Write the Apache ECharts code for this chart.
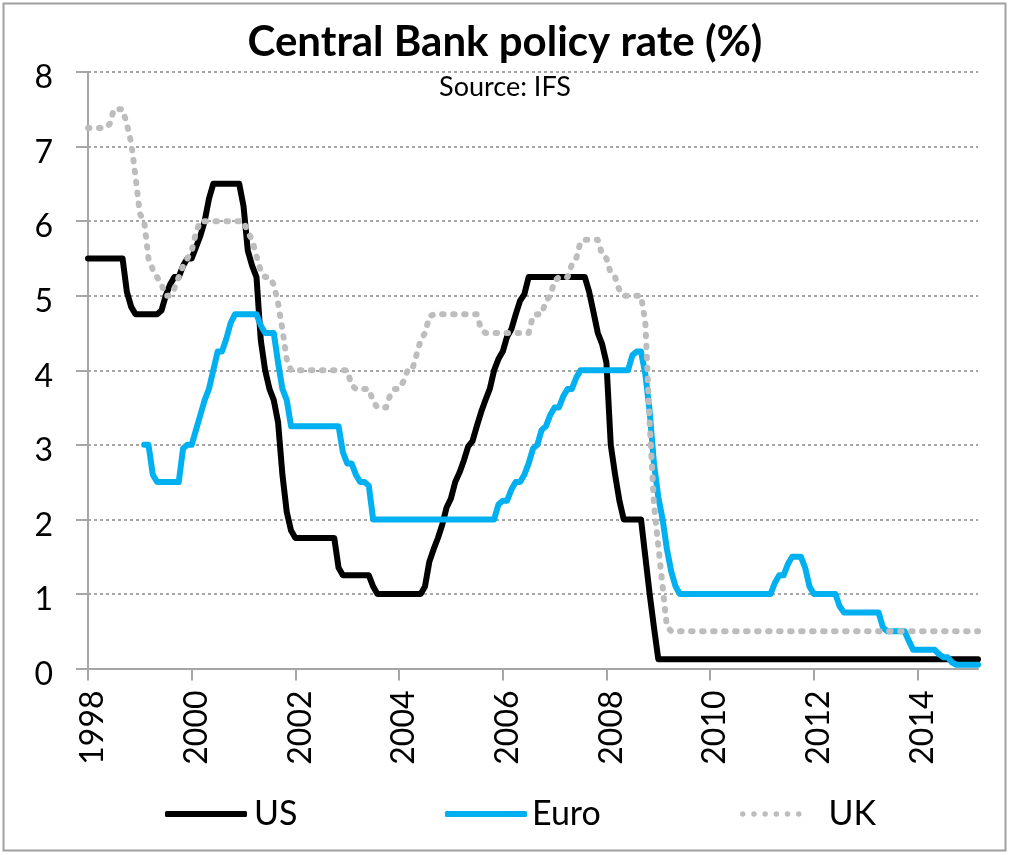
<!DOCTYPE html>
<html><head><meta charset="utf-8">
<script src="https://cdn.jsdelivr.net/npm/echarts@6/dist/echarts.min.js"></script>
<style>html,body{margin:0;padding:0;background:#fff}#c{width:1010px;height:855px}</style>
</head><body><div id="c"></div>
<script>
const startYear = 1998;
const tickYears = ['1998','2000','2002','2004','2006','2008','2010','2012','2014'];
const seriesNames = ['US', 'Euro', 'UK'];

const us = [
  5.5, 5.5, 5.5, 5.5, 5.5, 5.5, 5.5, 5.5, 5.5, 5.05, 4.85, 4.75,
  4.75, 4.75, 4.75, 4.75, 4.75, 4.8, 5.0, 5.15, 5.25, 5.25, 5.4, 5.5,
  5.5, 5.65, 5.8, 6.0, 6.3, 6.5, 6.5, 6.5, 6.5, 6.5, 6.5, 6.5,
  6.2, 5.6, 5.4, 5.25, 4.4, 4.0, 3.75, 3.6, 3.3, 2.6, 2.1, 1.85,
  1.75, 1.75, 1.75, 1.75, 1.75, 1.75, 1.75, 1.75, 1.75, 1.75, 1.35, 1.25,
  1.25, 1.25, 1.25, 1.25, 1.25, 1.25, 1.1, 1.0, 1.0, 1.0, 1.0, 1.0,
  1.0, 1.0, 1.0, 1.0, 1.0, 1.0, 1.1, 1.43, 1.6, 1.75, 1.93, 2.16,
  2.28, 2.5, 2.63, 2.79, 2.98, 3.05, 3.25, 3.44, 3.6, 3.75, 4.0, 4.15,
  4.25, 4.45, 4.55, 4.75, 4.93, 5.02, 5.25, 5.25, 5.25, 5.25, 5.25, 5.25,
  5.25, 5.25, 5.25, 5.25, 5.25, 5.25, 5.25, 5.25, 5.05, 4.78, 4.5, 4.35,
  4.1, 3.0, 2.6, 2.25, 2.0, 2.0, 2.0, 2.0, 2.0, 1.5, 1.0, 0.55,
  0.125, 0.125, 0.125, 0.125, 0.125, 0.125, 0.125, 0.125, 0.125, 0.125, 0.125, 0.125,
  0.125, 0.125, 0.125, 0.125, 0.125, 0.125, 0.125, 0.125, 0.125, 0.125, 0.125, 0.125,
  0.125, 0.125, 0.125, 0.125, 0.125, 0.125, 0.125, 0.125, 0.125, 0.125, 0.125, 0.125,
  0.125, 0.125, 0.125, 0.125, 0.125, 0.125, 0.125, 0.125, 0.125, 0.125, 0.125, 0.125,
  0.125, 0.125, 0.125, 0.125, 0.125, 0.125, 0.125, 0.125, 0.125, 0.125, 0.125, 0.125,
  0.125, 0.125, 0.125, 0.125, 0.125, 0.125, 0.125, 0.125, 0.125, 0.125, 0.125, 0.125,
  0.125, 0.125, 0.125
];

const euro = [
  null, null, null, null, null, null, null, null, null, null, null, null,
  null, 3.0, 3.0, 2.6, 2.5, 2.5, 2.5, 2.5, 2.5, 2.5, 2.95, 3.0,
  3.0, 3.2, 3.4, 3.6, 3.75, 4.0, 4.25, 4.25, 4.42, 4.63, 4.75, 4.75,
  4.75, 4.75, 4.75, 4.75, 4.6, 4.5, 4.5, 4.5, 4.1, 3.75, 3.6, 3.25,
  3.25, 3.25, 3.25, 3.25, 3.25, 3.25, 3.25, 3.25, 3.25, 3.25, 3.25, 2.9,
  2.75, 2.75, 2.6, 2.5, 2.5, 2.45, 2.0, 2.0, 2.0, 2.0, 2.0, 2.0,
  2.0, 2.0, 2.0, 2.0, 2.0, 2.0, 2.0, 2.0, 2.0, 2.0, 2.0, 2.0,
  2.0, 2.0, 2.0, 2.0, 2.0, 2.0, 2.0, 2.0, 2.0, 2.0, 2.0, 2.2,
  2.25, 2.25, 2.4, 2.5, 2.5, 2.6, 2.75, 2.95, 3.0, 3.2, 3.25, 3.4,
  3.5, 3.5, 3.65, 3.75, 3.75, 3.9, 4.0, 4.0, 4.0, 4.0, 4.0, 4.0,
  4.0, 4.0, 4.0, 4.0, 4.0, 4.0, 4.2, 4.25, 4.25, 3.95, 3.45, 2.75,
  2.3, 2.0, 1.6, 1.3, 1.1, 1.0, 1.0, 1.0, 1.0, 1.0, 1.0, 1.0,
  1.0, 1.0, 1.0, 1.0, 1.0, 1.0, 1.0, 1.0, 1.0, 1.0, 1.0, 1.0,
  1.0, 1.0, 1.0, 1.15, 1.25, 1.25, 1.4, 1.5, 1.5, 1.5, 1.35, 1.1,
  1.0, 1.0, 1.0, 1.0, 1.0, 1.0, 0.83, 0.75, 0.75, 0.75, 0.75, 0.75,
  0.75, 0.75, 0.75, 0.75, 0.55, 0.5, 0.5, 0.5, 0.5, 0.5, 0.37, 0.25,
  0.25, 0.25, 0.25, 0.25, 0.25, 0.19, 0.15, 0.15, 0.08, 0.05, 0.05, 0.05,
  0.05, 0.05, 0.05
];

const uk = [
  7.25, 7.25, 7.25, 7.25, 7.25, 7.3, 7.5, 7.5, 7.5, 7.3, 7.05, 6.6,
  6.1, 6.0, 5.5, 5.35, 5.25, 5.15, 5.0, 5.0, 5.1, 5.25, 5.4, 5.5,
  5.6, 5.85, 6.0, 6.0, 6.0, 6.0, 6.0, 6.0, 6.0, 6.0, 6.0, 6.0,
  6.0, 5.85, 5.75, 5.53, 5.33, 5.25, 5.25, 5.15, 4.9, 4.55, 4.15, 4.0,
  4.0, 4.0, 4.0, 4.0, 4.0, 4.0, 4.0, 4.0, 4.0, 4.0, 4.0, 4.0,
  4.0, 3.8, 3.75, 3.75, 3.75, 3.75, 3.58, 3.5, 3.5, 3.5, 3.68, 3.75,
  3.75, 3.85, 4.0, 4.0, 4.2, 4.4, 4.5, 4.72, 4.75, 4.75, 4.75, 4.75,
  4.75, 4.75, 4.75, 4.75, 4.75, 4.75, 4.75, 4.55, 4.5, 4.5, 4.5, 4.5,
  4.5, 4.5, 4.5, 4.5, 4.5, 4.5, 4.5, 4.73, 4.75, 4.75, 4.93, 5.0,
  5.2, 5.25, 5.25, 5.25, 5.42, 5.5, 5.72, 5.75, 5.75, 5.75, 5.75, 5.55,
  5.5, 5.3, 5.25, 5.07, 5.0, 5.0, 5.0, 5.0, 5.0, 4.65, 3.3, 2.2,
  1.65, 1.1, 0.56, 0.5, 0.5, 0.5, 0.5, 0.5, 0.5, 0.5, 0.5, 0.5,
  0.5, 0.5, 0.5, 0.5, 0.5, 0.5, 0.5, 0.5, 0.5, 0.5, 0.5, 0.5,
  0.5, 0.5, 0.5, 0.5, 0.5, 0.5, 0.5, 0.5, 0.5, 0.5, 0.5, 0.5,
  0.5, 0.5, 0.5, 0.5, 0.5, 0.5, 0.5, 0.5, 0.5, 0.5, 0.5, 0.5,
  0.5, 0.5, 0.5, 0.5, 0.5, 0.5, 0.5, 0.5, 0.5, 0.5, 0.5, 0.5,
  0.5, 0.5, 0.5, 0.5, 0.5, 0.5, 0.5, 0.5, 0.5, 0.5, 0.5, 0.5,
  0.5, 0.5, 0.5
];

// monthly category labels (Jan 1998 onward)
const months = [];
for (let i = 0; i < us.length; i++) {
  const y = startYear + Math.floor(i / 12);
  const m = (i % 12) + 1;
  months.push(y + '-' + (m < 10 ? '0' : '') + m);
}
const isTick = (idx) => {
  const v = months[idx];
  return v.slice(5) === '01' && tickYears.indexOf(v.slice(0, 4)) >= 0;
};

const FONT = 'Lato';
const GREY = '#A6A6A6';
const UKGREY = '#BDBDBD';
const chart = echarts.init(document.getElementById('c'), null, { renderer: 'canvas' });

// dotted legend icon for UK (six round dots)
let dots = '';
[0, 11.2, 22.4, 33.6, 44.8, 56].forEach(x0 => {
  dots += 'M' + x0 + ',2.75a2.75,2.75 0 1,0 5.5,0a2.75,2.75 0 1,0 -5.5,0Z';
});

const legendBase = {
  top: 792, itemHeight: 6,
  textStyle: { fontFamily: FONT, fontSize: 34, color: '#000' }
};

chart.setOption({
  animation: false,
  backgroundColor: '#fff',
  title: [
    { text: 'Central Bank policy rate (%)', left: 'center', top: 16,
      textStyle: { fontFamily: FONT, fontWeight: 'bold', fontSize: 42, color: '#000' } },
    { text: 'Source: IFS', left: 'center', top: 69,
      textStyle: { fontFamily: FONT, fontWeight: 'normal', fontSize: 27, color: '#000' } }
  ],
  graphic: [{
    type: 'rect', silent: true, z: -1,
    shape: { x: 3.5, y: 3.5, width: 1002, height: 847 },
    style: { fill: null, stroke: '#A0A0A0', lineWidth: 2 }
  }],
  legend: [
    Object.assign({}, legendBase, { left: 160, icon: 'roundRect', itemWidth: 82, data: [seriesNames[0]],
      textStyle: Object.assign({}, legendBase.textStyle, { padding: [0, 0, 0, 2] }) }),
    Object.assign({}, legendBase, { left: 440, icon: 'roundRect', itemWidth: 82, data: [seriesNames[1]],
      textStyle: Object.assign({}, legendBase.textStyle, { padding: [0, 0, 0, 0] }) }),
    Object.assign({}, legendBase, { left: 735, icon: 'path://' + dots, itemWidth: 61.5, itemHeight: 5.5,
      data: [seriesNames[2]],
      textStyle: Object.assign({}, legendBase.textStyle, { padding: [0, 0, 0, 22] }) })
  ],
  grid: { left: 88, right: 32, top: 72, bottom: 186.5, containLabel: false },
  xAxis: {
    type: 'category', data: months, boundaryGap: false,
    axisLine: { lineStyle: { color: GREY, width: 2 } },
    axisTick: { show: true, interval: isTick, length: 12, lineStyle: { color: GREY, width: 2 } },
    axisLabel: {
      interval: isTick, rotate: 90, margin: 22,
      formatter: v => v.slice(0, 4),
      fontFamily: FONT, fontSize: 32, color: '#000',
      verticalAlign: 'top', lineHeight: 10
    },
    splitLine: { show: false }
  },
  yAxis: {
    type: 'value', min: 0, max: 8, interval: 1,
    axisLine: { show: true, lineStyle: { color: GREY, width: 2 } },
    axisTick: { show: true, length: 12, lineStyle: { color: GREY, width: 2 } },
    axisLabel: { margin: 35, fontFamily: FONT, fontSize: 32, color: '#000',
      verticalAlign: 'top', lineHeight: 12 },
    splitLine: { show: true, lineStyle: { color: GREY, width: 2, type: [3, 3] } }
  },
  series: [
    { name: seriesNames[0], type: 'line', data: us, symbol: 'none', z: 3,
      lineStyle: { color: '#000000', width: 6, cap: 'round', join: 'round' },
      itemStyle: { color: '#000000' } },
    { name: seriesNames[1], type: 'line', data: euro, symbol: 'none', z: 4,
      lineStyle: { color: '#00B0F0', width: 6, cap: 'round', join: 'round' },
      itemStyle: { color: '#00B0F0' } },
    { name: seriesNames[2], type: 'line', data: uk, symbol: 'none', z: 5,
      lineStyle: { color: UKGREY, width: 6, type: [1.5, 9.5], cap: 'round', join: 'round' },
      itemStyle: { color: UKGREY } }
  ]
});
</script></body></html>
